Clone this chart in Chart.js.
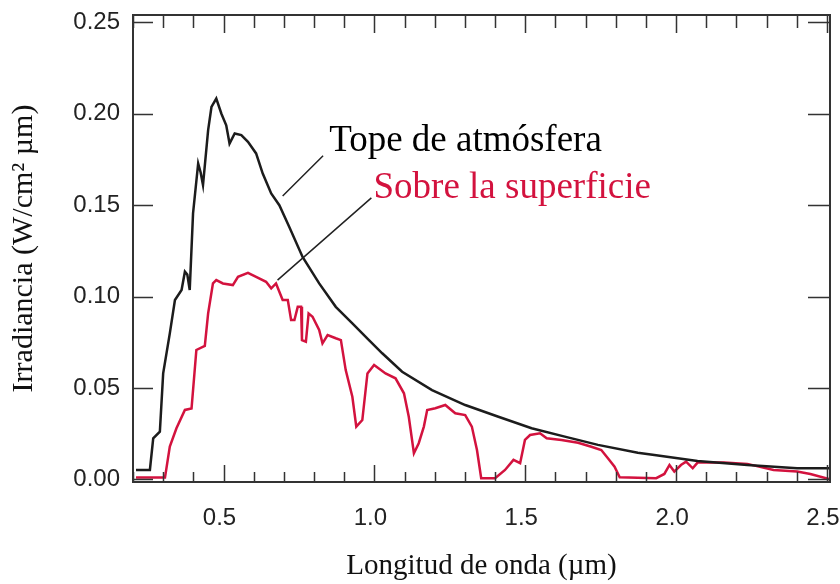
<!DOCTYPE html>
<html lang="es">
<head>
<meta charset="UTF-8">
<title>Irradiancia solar</title>
<style>
    body { margin: 0; background: #fff; }
    #wrap { width: 840px; height: 584px; position: relative; }
</style>
<script src="https://cdn.jsdelivr.net/npm/chart.js"></script>
</head>
<body>
<div id="wrap"><canvas id="chart"></canvas></div>
<script>
// longitud de onda (µm) e irradiancia (W/cm² µm)
const topWavelength = [0.21, 0.256, 0.267, 0.289, 0.300, 0.322, 0.339, 0.361, 0.372, 0.380, 0.388, 0.399, 0.416, 0.424, 0.432, 0.449, 0.460, 0.476, 0.493, 0.509, 0.520, 0.537, 0.559, 0.581, 0.608, 0.630, 0.658, 0.685, 0.718, 0.762, 0.817, 0.872, 0.927, 0.982, 1.026, 1.092, 1.191, 1.301, 1.411, 1.521, 1.631, 1.741, 1.873, 1.928, 2.071, 2.236, 2.401, 2.51];
const topIrradiance = [0.0052, 0.0052, 0.0225, 0.0261, 0.0580, 0.0799, 0.0981, 0.1036, 0.1136, 0.112, 0.1036, 0.1455, 0.1728, 0.168, 0.161, 0.191, 0.2037, 0.2083, 0.2000, 0.1937, 0.1837, 0.1892, 0.1883, 0.1846, 0.1783, 0.1673, 0.1564, 0.1500, 0.1381, 0.1217, 0.1072, 0.0944, 0.0854, 0.0762, 0.0690, 0.0589, 0.0489, 0.0407, 0.0343, 0.0280, 0.0234, 0.0189, 0.0146, 0.0134, 0.0101, 0.0079, 0.0061, 0.0061];

const surfaceWavelength = [0.21, 0.306, 0.322, 0.344, 0.372, 0.394, 0.410, 0.438, 0.449, 0.465, 0.476, 0.498, 0.531, 0.548, 0.581, 0.608, 0.641, 0.658, 0.674, 0.696, 0.713, 0.724, 0.735, 0.746, 0.757, 0.760, 0.773, 0.782, 0.795, 0.817, 0.828, 0.845, 0.872, 0.889, 0.905, 0.927, 0.940, 0.960, 0.977, 0.999, 1.037, 1.070, 1.098, 1.114, 1.131, 1.147, 1.164, 1.175, 1.202, 1.235, 1.268, 1.301, 1.323, 1.340, 1.354, 1.400, 1.433, 1.461, 1.483, 1.499, 1.516, 1.549, 1.571, 1.620, 1.675, 1.719, 1.752, 1.774, 1.796, 1.813, 1.934, 1.961, 1.978, 1.994, 2.016, 2.033, 2.055, 2.071, 2.159, 2.236, 2.323, 2.401, 2.445, 2.51];
const surfaceIrradiance = [0.001, 0.001, 0.018, 0.028, 0.038, 0.0388, 0.0708, 0.073, 0.0908, 0.1072, 0.109, 0.1072, 0.1063, 0.1108, 0.113, 0.1108, 0.1081, 0.1045, 0.1072, 0.0981, 0.0981, 0.0872, 0.0872, 0.0944, 0.0944, 0.0762, 0.0753, 0.0908, 0.089, 0.0817, 0.0744, 0.079, 0.0772, 0.0762, 0.0598, 0.0452, 0.0289, 0.0325, 0.058, 0.0626, 0.058, 0.0553, 0.0471, 0.0343, 0.0143, 0.0198, 0.0289, 0.038, 0.0389, 0.0407, 0.0362, 0.0352, 0.0289, 0.0161, 0.0007, 0.0007, 0.0052, 0.0107, 0.0089, 0.0216, 0.0243, 0.0252, 0.0225, 0.0216, 0.0201, 0.0179, 0.0161, 0.0116, 0.007, 0.0012, 0.0007, 0.003, 0.0079, 0.0043, 0.0079, 0.0097, 0.0061, 0.0092, 0.0092, 0.0085, 0.0052, 0.0043, 0.003, 0.0001];

const xTickValues = [0.5, 1.0, 1.5, 2.0, 2.5];
const yTickValues = [0.00, 0.05, 0.10, 0.15, 0.20, 0.25];
const seriesNames = ['Tope de atmósfera', 'Sobre la superficie'];

const BLACK = '#1c1c1c';
const RED = '#d3123e';

function pairs(xs, ys) {
    return xs.map((x, i) => ({ x: x, y: ys[i] }));
}

// marcas interiores, marco y rotulos con lineas guia
const framePlugin = {
    id: 'frame',
    afterDraw(chart) {
        const ctx = chart.ctx;
        const a = chart.chartArea;
        const xs = chart.scales.x;
        const ys = chart.scales.y;
        ctx.save();
        ctx.strokeStyle = '#333';
        ctx.lineWidth = 1.5;
        for (let i = 2; i <= 25; i++) {
            const px = Math.round(xs.getPixelForValue(i / 10)) + 0.5;
            const major = i % 5 === 0;
            ctx.beginPath();
            ctx.moveTo(px, a.bottom);
            ctx.lineTo(px, a.bottom - (major ? 17 : 10));
            ctx.moveTo(px, a.top);
            ctx.lineTo(px, a.top + (major ? 18 : 13));
            ctx.stroke();
        }
        yTickValues.forEach(v => {
            const py = Math.round(ys.getPixelForValue(v)) + 0.5;
            ctx.beginPath();
            ctx.moveTo(a.left, py);
            ctx.lineTo(a.left + 20, py);
            ctx.moveTo(a.right, py);
            ctx.lineTo(a.right - 22, py);
            ctx.stroke();
        });
        ctx.lineWidth = 2;
        ctx.strokeRect(a.left, a.top, a.right - a.left, a.bottom - a.top);

        // lineas guia
        ctx.strokeStyle = '#222';
        ctx.lineWidth = 1.5;
        ctx.beginPath();
        ctx.moveTo(xs.getPixelForValue(0.696), ys.getPixelForValue(0.155));
        ctx.lineTo(xs.getPixelForValue(0.830), ys.getPixelForValue(0.177));
        ctx.moveTo(xs.getPixelForValue(0.679), ys.getPixelForValue(0.109));
        ctx.lineTo(xs.getPixelForValue(0.990), ys.getPixelForValue(0.154));
        ctx.stroke();

        ctx.font = '37px "Liberation Serif"';
        ctx.textBaseline = 'alphabetic';
        ctx.fillStyle = '#000';
        ctx.fillText(seriesNames[0], xs.getPixelForValue(0.850), ys.getPixelForValue(0.1795));
        ctx.fillStyle = RED;
        ctx.fillText(seriesNames[1], xs.getPixelForValue(0.997), ys.getPixelForValue(0.154));
        ctx.restore();
    }
};

new Chart(document.getElementById('chart'), {
    type: 'line',
    data: {
        datasets: [{
            label: seriesNames[0],
            data: pairs(topWavelength, topIrradiance),
            borderColor: BLACK,
            borderWidth: 2.5,
            pointRadius: 0,
            tension: 0
        }, {
            label: seriesNames[1],
            data: pairs(surfaceWavelength, surfaceIrradiance),
            borderColor: RED,
            borderWidth: 2.5,
            pointRadius: 0,
            tension: 0
        }]
    },
    options: {
        responsive: true,
        maintainAspectRatio: false,
        animation: false,
        layout: { padding: { top: 15, right: 10, left: 0, bottom: 0 } },
        plugins: {
            legend: { display: false },
            tooltip: { enabled: false }
        },
        scales: {
            x: {
                type: 'linear',
                min: 0.2,
                max: 2.51,
                grid: { display: false, drawTicks: false },
                border: { display: false },
                afterBuildTicks: s => { s.ticks = xTickValues.map(v => ({ value: v })); },
                afterFit: s => { s.height = 102; s.paddingLeft = 0; s.paddingRight = 0; },
                ticks: {
                    padding: 22,
                    labelOffset: -4,
                    maxRotation: 0,
                    autoSkip: false,
                    color: '#222',
                    font: { family: '"Liberation Sans", Arial', size: 24 },
                    callback: v => v.toFixed(1)
                },
                title: {
                    display: true,
                    text: 'Longitud de onda (µm)',
                    color: '#111',
                    padding: 0,
                    font: { family: '"Liberation Serif"', size: 29 }
                }
            },
            y: {
                min: -0.0014,
                max: 0.254,
                grid: { display: false, drawTicks: false },
                border: { display: false },
                afterBuildTicks: s => { s.ticks = yTickValues.map(v => ({ value: v })); },
                afterFit: s => { s.width = 133; s.paddingTop = 0; s.paddingBottom = 0; },
                ticks: {
                    padding: 13,
                    color: '#222',
                    font: { family: '"Liberation Sans", Arial', size: 24 },
                    callback: v => v.toFixed(2)
                },
                title: {
                    display: true,
                    text: 'Irradiancia (W/cm² µm)',
                    color: '#111',
                    padding: { top: 6, bottom: 0 },
                    font: { family: '"Liberation Serif"', size: 30 }
                }
            }
        }
    },
    plugins: [framePlugin]
});
</script>
</body>
</html>
